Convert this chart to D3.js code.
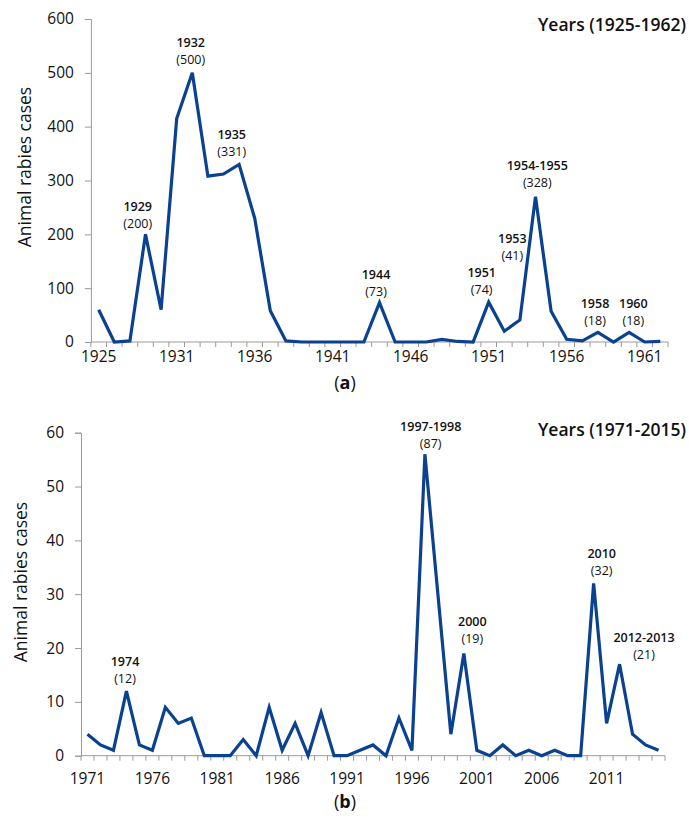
<!DOCTYPE html>
<html>
<head>
<script src="https://d3js.org/d3.v7.min.js"></script>
<style>
  body { margin: 0; background: #fff; }
  text { font-family: "Open Sans", "DejaVu Sans", sans-serif; }
</style>
</head>
<body>
<svg width="689" height="830"></svg>
<script>
"use strict";

// panel (a): 1926 is not in the source series
var yearsA = [1925, 1927, 1928, 1929, 1930, 1931, 1932, 1933, 1934, 1935, 1936, 1937, 1938,
    1939, 1940, 1941, 1942, 1943, 1944, 1945, 1946, 1947, 1948, 1949, 1950, 1951, 1952,
    1953, 1954, 1955, 1956, 1957, 1958, 1959, 1960, 1961, 1962];
var casesA = [60, 0, 2, 200, 60, 415, 500, 308, 312, 330, 230, 58, 2,
    0, 0, 0, 0, 0, 73, 0, 0, 0, 5, 1, 0, 74, 20,
    41, 270, 57, 5, 2, 18, 0, 18, 0, 1];
var tickLabelsA = ["1925", "1931", "1936", "1941", "1946", "1951", "1956", "1961"];
var notesA = [
    { year: "1929", value: "(200)", x: 137.7, y: 211 },
    { year: "1932", value: "(500)", x: 190.7, y: 47 },
    { year: "1935", value: "(331)", x: 231.7, y: 139 },
    { year: "1944", value: "(73)", x: 376, y: 279 },
    { year: "1951", value: "(74)", x: 481.7, y: 277 },
    { year: "1953", value: "(41)", x: 512.3, y: 243 },
    { year: "1954-1955", value: "(328)", x: 537.3, y: 170 },
    { year: "1958", value: "(18)", x: 595, y: 308 },
    { year: "1960", value: "(18)", x: 633.3, y: 308 }
];

// panel (b)
var yearsB = d3.range(1971, 2016);
var casesB = [4, 2, 1, 12, 2, 1, 9, 6, 7, 0, 0, 0, 3, 0, 9, 1, 6, 0, 8, 0,
    0, 1, 2, 0, 7, 1, 56, 30, 4, 19, 1, 0, 2, 0, 1, 0, 1, 0, 0, 32,
    6, 17, 4, 2, 1];
var tickLabelsB = ["1971", "1976", "1981", "1986", "1991", "1996", "2001", "2006", "2011"];
var notesB = [
    { year: "1974", value: "(12)", x: 125, y: 666 },
    { year: "1997-1998", value: "(87)", x: 430.7, y: 431 },
    { year: "2000", value: "(19)", x: 472.3, y: 626 },
    { year: "2010", value: "(32)", x: 601.7, y: 558 },
    { year: "2012-2013", value: "(21)", x: 644, y: 642 }
];

var svg = d3.select("svg");
var lineColor = "#0a4190", axisColor = "#9a9a9a";

function panel(opt) {
    var g = svg.append("g");
    var n = opt.years.length;
    var x = d3.scaleBand().domain(opt.years).range([opt.x0, opt.x1]);
    var xi = d3.scaleLinear().domain([0, n]).range([opt.x0, opt.x1]);
    var y = d3.scaleLinear().domain([0, opt.ymax]).range([opt.y0, opt.y1]);

    // y axis
    var ya = g.append("g").attr("transform", "translate(" + opt.x0 + ",0)")
        .call(d3.axisLeft(y).ticks(6).tickSize(6).tickPadding(11));
    ya.select(".domain").attr("stroke", axisColor);
    ya.selectAll(".tick line").attr("stroke", axisColor);
    ya.selectAll(".tick text").attr("font-size", 15.5).attr("fill", "#111")
        .attr("font-family", "Open Sans, sans-serif");

    // x axis: marks at category edges, labels every fifth category
    var xa = g.append("g").attr("transform", "translate(0," + opt.y0 + ")");
    xa.append("line").attr("x1", opt.x0).attr("x2", opt.x1)
        .attr("stroke", axisColor);
    xa.selectAll("line.tk").data(d3.range(n + 1)).enter().append("line")
        .attr("class", "tk")
        .attr("x1", d => xi(d)).attr("x2", d => xi(d))
        .attr("y1", 0).attr("y2", 5).attr("stroke", axisColor);
    xa.selectAll("text").data(opt.tickLabels).enter().append("text")
        .attr("x", (d, i) => x(opt.years[i * 5]) + x.bandwidth() / 2)
        .attr("y", opt.labelDy)
        .attr("text-anchor", "middle").attr("font-size", 15.5).attr("fill", "#111")
        .text(d => d);

    // series
    var line = d3.line()
        .x((d, i) => x(opt.years[i]) + x.bandwidth() / 2)
        .y(d => y(d));
    g.append("path").datum(opt.cases)
        .attr("d", line).attr("fill", "none")
        .attr("stroke", lineColor).attr("stroke-width", 3.2)
        .attr("stroke-linejoin", "miter");

    // annotations
    var nt = g.selectAll("g.note").data(opt.notes).enter().append("g")
        .attr("transform", d => "translate(" + d.x + "," + d.y + ")");
    nt.append("text").attr("text-anchor", "middle").attr("font-size", 12.5)
        .attr("font-weight", 600).attr("fill", "#111").text(d => d.year);
    nt.append("text").attr("text-anchor", "middle").attr("font-size", 12.5)
        .attr("y", 16.5).attr("fill", "#111").text(d => d.value);

    // titles
    g.append("text").attr("x", 686).attr("y", opt.titleY)
        .attr("text-anchor", "end").attr("font-size", 17.5).attr("font-weight", 600)
        .attr("fill", "#111").text(opt.title);
    g.append("text")
        .attr("transform", "translate(" + opt.axisTitleX + "," + opt.axisTitleY + ") rotate(-90)")
        .attr("text-anchor", "middle").attr("font-size", 17.5).attr("fill", "#111")
        .text("Animal rabies cases");
    var cap = g.append("text").attr("x", 345).attr("y", opt.capY)
        .attr("text-anchor", "middle").attr("font-size", 18)
        .attr("font-family", "Liberation Serif, Times New Roman, serif").attr("fill", "#111");
    cap.append("tspan").text("(");
    cap.append("tspan").attr("font-weight", "bold").text(opt.cap);
    cap.append("tspan").text(")");
}

panel({
    years: yearsA, cases: casesA, tickLabels: tickLabelsA, notes: notesA,
    x0: 90.9, x1: 668.1, y0: 342, y1: 19, ymax: 600, labelDy: 20,
    title: "Years (1925-1962)", titleY: 31,
    axisTitleX: 31, axisTitleY: 167, cap: "a", capY: 389
});

panel({
    years: yearsB, cases: casesB, tickLabels: tickLabelsB, notes: notesB,
    x0: 81, x1: 665, y0: 755.7, y1: 432.7, ymax: 60, labelDy: 28,
    title: "Years (1971-2015)", titleY: 436,
    axisTitleX: 27, axisTitleY: 582, cap: "b", capY: 808
});
</script>
</body>
</html>
